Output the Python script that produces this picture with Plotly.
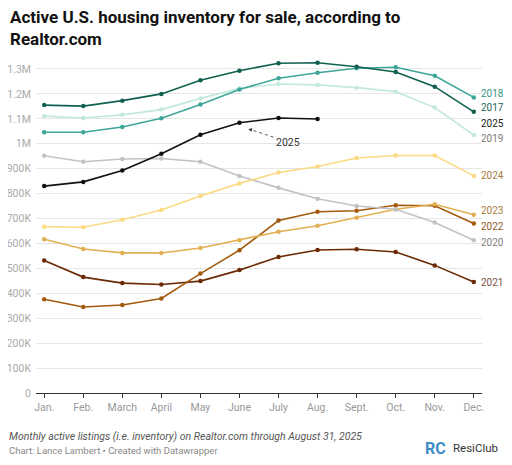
import plotly.graph_objects as go

months = ["Jan.", "Feb.", "March", "April", "May", "June", "July", "Aug.", "Sept.", "Oct.", "Nov.", "Dec."]

y2017 = [1155, 1151, 1173, 1200, 1255, 1293, 1323, 1325, 1309, 1288, 1229, 1128]
y2018 = [1046, 1046, 1067, 1102, 1157, 1218, 1263, 1285, 1303, 1307, 1273, 1186]
y2019 = [1111, 1103, 1116, 1137, 1182, 1222, 1240, 1236, 1225, 1209, 1145, 1035]
y2020 = [952, 928, 939, 941, 928, 871, 823, 779, 750, 737, 684, 613]
y2021 = [532, 465, 441, 435, 449, 493, 546, 574, 577, 566, 512, 445]
y2022 = [376, 345, 353, 379, 479, 573, 692, 727, 731, 753, 751, 680]
y2023 = [617, 578, 562, 562, 582, 613, 647, 671, 703, 737, 757, 715]
y2024 = [667, 665, 695, 734, 790, 841, 885, 909, 943, 953, 953, 871]
y2025 = [830, 847, 893, 960, 1036, 1084, 1103, 1099]

# year, values, line colour, label colour, label pixel shift
series = [
    ("2021", y2021, "#6b2a05", "#7a5544", 0),
    ("2022", y2022, "#a35a0e", "#8e5a2a", -3),
    ("2023", y2023, "#e2b052", "#a87c3e", 4),
    ("2020", y2020, "#c2c2c2", "#808080", -2),
    ("2024", y2024, "#fcd983", "#a87c3e", 0),
    ("2019", y2019, "#c3e8df", "#7a7a7a", -3),
    ("2018", y2018, "#3ea699", "#3a9488", 4),
    ("2017", y2017, "#10604f", "#1d6658", 4),
    ("2025", y2025, "#111111", "#222222", -4),
]

W, H = 504, 452
L, T = 28, 51
PW, PH = 446, 334
R, B = W - L - PW, H - T - PH


def px(x):
    return (x - L) / PW


def py(y):
    return (T + PH - y) / PH


fig = go.Figure()
annotations = []
for name, vals, col, lcol, shift in series:
    v = [x * 1000 for x in vals]
    fig.add_trace(go.Scatter(
        x=list(range(len(v))), y=v, mode="lines+markers", name=name,
        line=dict(color=col, width=1.6), marker=dict(color=col, size=4.5),
        showlegend=False, hoverinfo="skip"))
    annotations.append(dict(
        x=11, y=v[-1], xref="x", yref="y", text=name, showarrow=False,
        xanchor="left", xshift=5, yshift=shift,
        font=dict(family="Roboto", size=10, color=lcol)))

# 2025 callout
annotations.append(dict(x=5.23, y=1059000, xref="x", yref="y", ax=5.36, ay=1053000,
                        axref="x", ayref="y", text="", showarrow=True, arrowhead=2,
                        arrowsize=0.9, arrowwidth=0.8, arrowcolor="#333"))
annotations.append(dict(x=6.24, y=1006000, xref="x", yref="y", text="2025", showarrow=False,
                        font=dict(family="Roboto", size=10.5, color="#333")))
fig.add_shape(type="line", x0=5.36, y0=1053000, x1=5.915, y1=1024000, xref="x", yref="y",
              line=dict(color="#333", width=0.8, dash="dot"))

# title
annotations.append(dict(x=px(0), y=py(20), xref="paper", yref="paper", xanchor="left",
                        yanchor="middle", align="left", showarrow=False,
                        text="<b>Active U.S. housing inventory for sale, according to<br>Realtor.com</b>",
                        font=dict(family="Roboto", size=17, color="#111")))
# footer
annotations.append(dict(x=px(-1), y=py(428), xref="paper", yref="paper", xanchor="left",
                        yanchor="middle", showarrow=False,
                        text="<i>Monthly active listings (i.e. inventory) on Realtor.com through August 31, 2025</i>",
                        font=dict(family="Roboto", size=10.5, color="#555")))
annotations.append(dict(x=px(-1), y=py(442.5), xref="paper", yref="paper", xanchor="left",
                        yanchor="middle", showarrow=False,
                        text="Chart: Lance Lambert • Created with Datawrapper",
                        font=dict(family="Roboto", size=9.5, color="#888")))
annotations.append(dict(x=px(415), y=py(440), xref="paper", yref="paper", xanchor="left",
                        yanchor="middle", showarrow=False, text="<b>RC</b>",
                        font=dict(family="Roboto", size=16, color="#3d8cc4")))
annotations.append(dict(x=px(443), y=py(440), xref="paper", yref="paper", xanchor="left",
                        yanchor="middle", showarrow=False, text="ResiClub",
                        font=dict(family="Roboto", size=11.5, color="#333")))

fig.update_layout(
    width=W, height=H,
    margin=dict(l=L, r=R, t=T, b=B, autoexpand=False),
    paper_bgcolor="white", plot_bgcolor="white",
    annotations=annotations,
    xaxis=dict(range=[-0.21, 11.21], tickmode="array", tickvals=list(range(12)),
               ticktext=months, showgrid=False, zeroline=False, showline=False,
               ticks="outside", ticklen=4, tickcolor="#333", tickwidth=1,
               automargin=False,
               tickfont=dict(family="Roboto", size=10.5, color="#999")),
    yaxis=dict(range=[0, 1340000], tickmode="array",
               tickvals=[i * 100000 for i in range(14)],
               ticktext=["0"] + [f"{i*100}K" for i in range(1, 10)] + ["1M", "1.1M", "1.2M", "1.3M"],
               showgrid=True, gridcolor="#e6e6e6", gridwidth=1,
               zeroline=True, zerolinecolor="#333", zerolinewidth=1.3,
               showline=False, ticks="", ticklabelstandoff=4, automargin=False,
               tickfont=dict(family="Roboto", size=10.5, color="#aaa")),
)

fig.write_html("out.html")
